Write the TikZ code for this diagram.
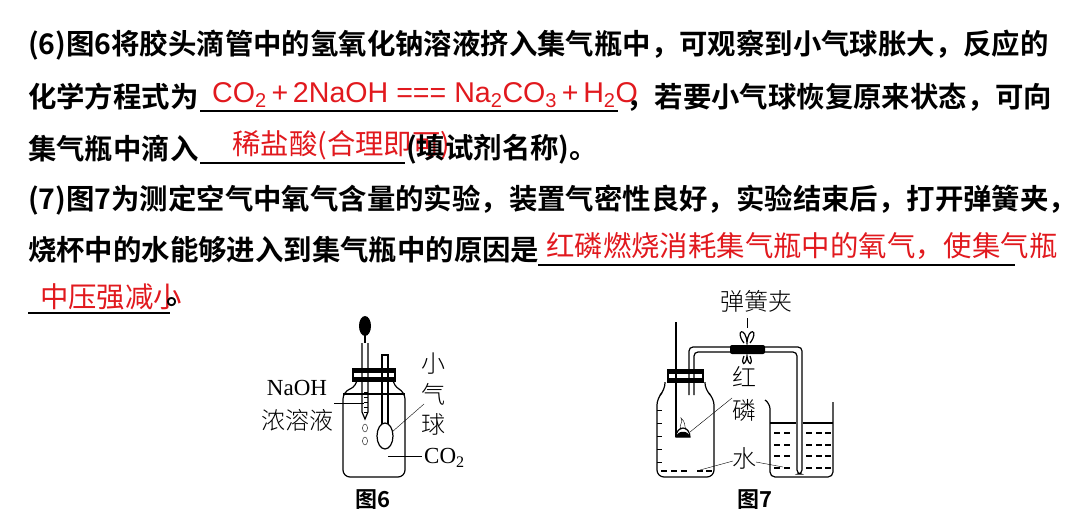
\documentclass[tikz,border=0pt]{standalone}
\usepackage{fontspec}
\setmainfont{Liberation Serif}
\newfontfamily\cjk{Noto Sans CJK SC}[BoldFont={* Bold}]
\newfontfamily\cjkb{Noto Sans CJK SC Bold}
\newfontfamily\cjkl{Noto Sans CJK SC Light}
\newfontfamily\lat{Liberation Sans}
\definecolor{ans}{RGB}{225,25,30}
\begin{document}
\begin{tikzpicture}[x=1pt,y=-1pt,
  t/.style={anchor=west,inner sep=0,font=\fontsize{28.4}{28}\cjkb},
  a/.style={anchor=west,inner sep=0,text=ans,font=\fontsize{28.4}{28}\cjk},
  ul/.style={line width=1.5pt},
  lb/.style={inner sep=0,font=\fontsize{24}{24}\cjkl},
  lbs/.style={inner sep=0,font=\fontsize{23}{23}\selectfont},
  figcap/.style={inner sep=0,font=\fontsize{22}{22}\cjkb},
  th/.style={line width=1.2pt}]
\useasboundingbox (0,0) rectangle (1080,527);
% text lines
\node[t] (l1) at (28,45) {(6)图6将胶头滴管中的氢氧化钠溶液挤入集气瓶中，可观察到小气球胀大，反应的};
\node[t] (l2a) at (28,97) {化学方程式为};
\draw[ul] (200,111) coordinate (u1a) -- (618,111) coordinate (u1b);
\node[a,font=\fontsize{28.6}{28}\lat] (eq) at (212,95) {CO\textsubscript{2}\,+\,2NaOH === Na\textsubscript{2}CO\textsubscript{3}\,+\,H\textsubscript{2}O};
\node[t] (l2b) at (626,97) {，若要小气球恢复原来状态，可向};
\node[t] (l3a) at (28,149) {集气瓶中滴入};
\draw[ul] (200,163) coordinate (u2a) -- (405,163) coordinate (u2b);
\node[a] (r2) at (232,145) {稀盐酸(合理即可)};
\node[t] (l3b) at (406,149) {(填试剂名称)。};
\node[t] (l4) at (28,200) {(7)图7为测定空气中氧气含量的实验，装置气密性良好，实验结束后，打开弹簧夹，};
\node[t] (l5a) at (28,250) {烧杯中的水能够进入到集气瓶中的原因是};
\draw[ul] (538,265) coordinate (u3a) -- (1015,265) coordinate (u3b);
\node[a] (r3) at (546,246) {红磷燃烧消耗集气瓶中的氧气，使集气瓶};
\draw[ul] (28,313) coordinate (u4a) -- (170,313) coordinate (u4b);
\node[a] (r4) at (40,297) {中压强减小};
\node[t] (l6) at (166,302) {。};
% ---------- Figure 6
\draw[th,rounded corners=7] (357,381) -- (357,386) -- (343,392) -- (343,477) -- (405,477) -- (405,392) -- (393,386) -- (393,381);
\draw[th] (343,394) -- (405,394);
\draw[th,fill=white] (353,369) rectangle (395,381);
\fill (353,369) rectangle (395,373);
\fill (353,377) rectangle (395,381);
\draw[th] (362,343) -- (362,412) -- (365,419) -- (368,412) -- (368,343);
\fill (365,326) ellipse (6 and 10);
\draw[th] (365,331) -- (365,343);
\foreach \yy in {392,397,402,407,412} \draw (364,\yy) -- (368,\yy);
\draw (365,428) ellipse (2.5 and 4);
\draw (365,441) ellipse (2.5 and 4);
\draw[th] (382,355) rectangle (388,424);
\draw[th,fill=white] (385,436) ellipse (8 and 13);
\node[lbs] (naoh) at (297,388) {NaOH};
\node[lb] (nr) at (297,420) {浓溶液};
\draw (334,403) -- (364,403);
\node[lb] (q1) at (433,364) {小};
\node[lb] (q2) at (433,394) {气};
\node[lb] (q3) at (433,424) {球};
\draw (392,432) -- (424,404);
\node[lbs,anchor=west] (co2) at (424,458) {CO\textsubscript{2}};
\draw (388,456) -- (422,456);
\node[figcap] (c6) at (373,500) {图6};
% ---------- Figure 7
\draw[th,rounded corners=7] (665,382) -- (665,390) -- (657,398) -- (657,477) -- (714,477) -- (714,398) -- (705,390) -- (705,382);
\foreach \yy in {410,423,436,449,462} \draw (657,\yy) -- (662,\yy);
\draw[th,fill=white] (668,370) rectangle (703,382);
\fill (668,370) rectangle (703,374);
\fill (668,378) rectangle (703,382);
\draw[th] (676,322) -- (676,437);
\draw[th] (676,437) arc (180:360:7 and 9) -- cycle;
\fill (676,437) .. controls (677,430) and (689,430) .. (690,437) -- cycle;
\draw (681,430) .. controls (678,424) and (684,423) .. (681,418) .. controls (686,422) and (684,426) .. (686,430);
\foreach \xx in {661,671,681,697,706} \draw[th] (\xx,471) -- (\xx+6,471);
% tube
\draw[th,rounded corners=4] (689,395) -- (689,347) -- (802,347) -- (802,474) -- (797,474) -- (797,352) -- (694,352) -- (694,395);
\fill[rounded corners=2] (730,345) rectangle (765,354);
\draw[th] (744,343) .. controls (734,330) and (746,326) .. (747,343) .. controls (748,326) and (760,330) .. (750,343);
\draw[th] (744,356) .. controls (740,366) and (746,366) .. (747,356) .. controls (748,366) and (754,366) .. (750,356);
% beaker
\draw[th,rounded corners=5] (765,400) -- (770,404) -- (770,477) -- (833,477) -- (833,402);
\draw[th] (770,423) -- (796,423) (803,423) -- (833,423);
\foreach \yy in {433,445,456,468} {
  \foreach \xx in {774,784,806,816,825} \draw[th] (\xx,\yy) -- (\xx+6,\yy);}
\node[lb] (k1) at (756,301) {弹簧夹};
\draw (747,318) -- (747,328);
\node[lb] (h1) at (744,377) {红};
\node[lb] (h2) at (744,410) {磷};
\draw (690,432) -- (732,398);
\node[lb] (w) at (744,458) {水};
\draw (700,470) -- (733,461);
\draw (756,462) -- (783,467);
\node[figcap] (c7) at (755,500) {图7};
\end{tikzpicture}
\end{document}
